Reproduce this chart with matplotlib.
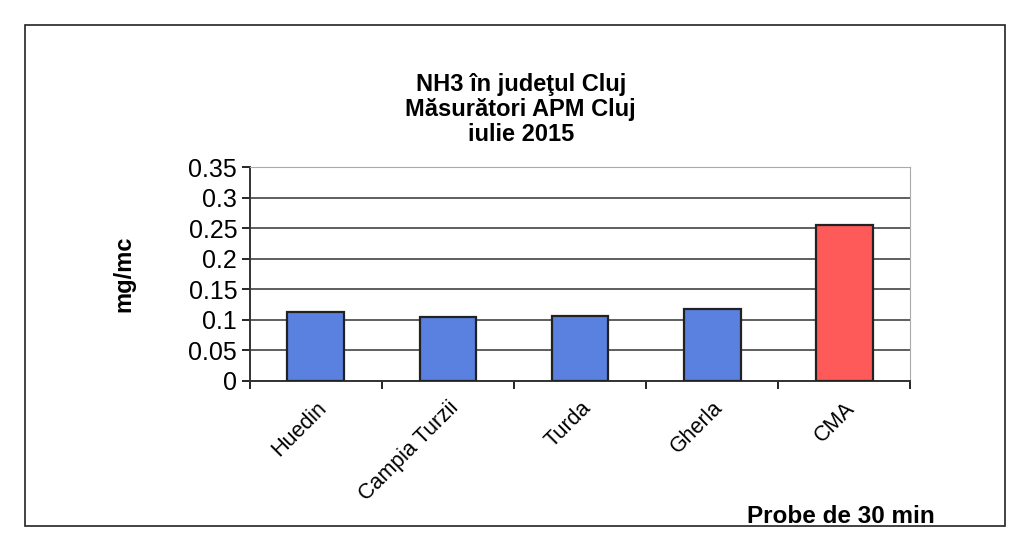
import matplotlib.pyplot as plt
import numpy as np
from matplotlib.patches import Rectangle

plt.rcParams['font.family'] = ['Liberation Sans', 'DejaVu Sans']

# data
categories = ['Huedin', 'Campia Turzii', 'Turda', 'Gherla', 'CMA']
values = [0.113, 0.104, 0.106, 0.118, 0.255]
colors = ['#5a80e0', '#5a80e0', '#5a80e0', '#5a80e0', '#ff5a5a']
yticks = [0, 0.05, 0.1, 0.15, 0.2, 0.25, 0.3, 0.35]
ytick_labels = ['0', '0.05', '0.1', '0.15', '0.2', '0.25', '0.3', '0.35']

fig = plt.figure(figsize=(10.15, 5.48), dpi=100)
ax = fig.add_axes([0.246, 0.305, 0.651, 0.39])

x = np.arange(len(categories))
ax.bar(x, values, width=0.43, color=colors, edgecolor='#222222', linewidth=1.6, zorder=3)

ax.set_ylim(0, 0.35)
ax.set_xlim(-0.5, len(categories) - 0.5)
ax.set_yticks(yticks)
ax.set_yticklabels(ytick_labels, fontsize=18)
ax.yaxis.grid(True, color='#333333', linewidth=1.1)
ax.set_axisbelow(True)

# category labels between boundary ticks
ax.set_xticks(x)
ax.set_xticklabels(categories, rotation=45, ha='right', rotation_mode='anchor', fontsize=15.5)
ax.tick_params(axis='x', which='major', length=0, pad=12)
ax.set_xticks(np.arange(-0.5, len(categories)), minor=True)
ax.tick_params(axis='x', which='minor', length=6, width=1.2, direction='out')
ax.tick_params(axis='y', length=6, width=1.2, direction='out', pad=3)

for side in ['top', 'right']:
    ax.spines[side].set_color('#aaaaaa')
for side in ['left', 'bottom']:
    ax.spines[side].set_color('#333333')
    ax.spines[side].set_linewidth(1.4)

ax.set_ylabel('mg/mc', fontsize=17, fontweight='bold', labelpad=38)

fig.text(0.513, 0.80, 'NH3 în judeţul Cluj\nMăsurători APM Cluj\niulie 2015',
         ha='center', va='center', fontsize=17, fontweight='bold', linespacing=1.1)
fig.text(0.828, 0.057, 'Probe de 30 min', ha='center', va='center',
         fontsize=17.5, fontweight='bold')

# outer chart frame
fig.patches.append(Rectangle((0.025, 0.04), 0.965, 0.915, transform=fig.transFigure,
                             fill=False, edgecolor='#222222', linewidth=1.2))

fig.savefig('out.png', dpi=100)
